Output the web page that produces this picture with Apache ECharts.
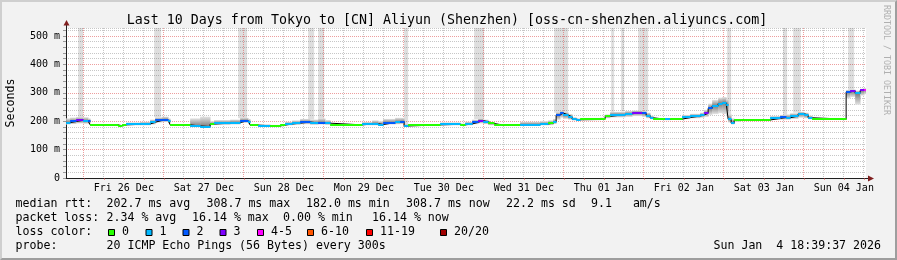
<!DOCTYPE html>
<html><head><meta charset="utf-8">
<script src="https://cdn.jsdelivr.net/npm/echarts@6/dist/echarts.min.js"></script>
<style>
html,body{margin:0;padding:0;background:#f2f2f2;}
#wrap{position:relative;width:897px;height:260px;overflow:hidden;}
#c{width:897px;height:260px;}
#frame{position:absolute;left:0;top:0;width:897px;height:260px;box-sizing:border-box;border-top:2px solid #cfcfcf;border-left:2px solid #cfcfcf;border-right:2px solid #9e9e9e;border-bottom:2px solid #9e9e9e;pointer-events:none;}
</style></head><body>
<div id="wrap"><div id="c"></div><div id="frame"></div></div>
<script>
// time in hours since Thu 25 Dec 2025 00:00
const START = 18.66;
const END = 258.66;
const Y_MAX = 528;

const dayLabels = ['Fri 26 Dec','Sat 27 Dec','Sun 28 Dec','Mon 29 Dec','Tue 30 Dec','Wed 31 Dec','Thu 01 Jan','Fri 02 Jan','Sat 03 Jan','Sun 04 Jan'];
const dayLabelHours = [36,60,84,108,132,156,180,204,228,252];
const yTickLabels = ['0','100 m','200 m','300 m','400 m','500 m'];

// median rtt segments (start hour, value ms, loss colour index, smoke range)
const segStart = [18.7,19.9,21.7,23.8,25.3,25.9,34.3,35.5,36.7,40.9,43.9,45.4,47.5,49.3,49.9,55.9,58.9,61.9,63.1,67.9,70.9,73.3,73.9,76.3,79.9,82.9,84.4,86.5,88.9,91.9,94.3,96.4,97.9,107.5,110.5,112.3,113.8,117.4,118.9,120.1,121.3,130.9,136.9,138.4,140.5,142.3,143.8,145.3,147.1,148.9,154.9,160.9,163.3,164.8,165.7,166.9,167.8,169.3,170.5,171.7,172.9,178.9,180.4,181.9,186.4,188.5,191.5,192.7,193.9,194.8,198.4,199.9,203.5,205.9,208.9,210.1,211.3,212.5,214.3,215.5,216.7,217.3,218.2,219.1,220.9,229.9,232.9,234.7,235.9,238.3,240.1,241.3,242.5,252.7,253.9,255.4,256.9,258.1];
const median   = [195,199,203,201,199,187,184,187,189,190,196,203,205,199,187,183,181,190,193,195,202,198,186,184,183,186,190,193,197,194,195,193,187,190,191,188,195,197,198,183,187,189,187,190,196,202,198,192,188,187,188,190,193,198,222,229,222,215,207,205,206,209,217,223,226,230,228,220,212,207,206,207,213,218,222,228,245,254,262,265,258,207,193,203,204,210,213,212,218,226,222,212,207,303,306,298,308,311];
const lossIdx  = [1,2,3,1,2,0,0,0,1,1,1,2,2,1,0,1,1,0,1,1,2,1,0,1,0,0,1,1,2,1,2,1,0,1,1,1,2,1,2,1,0,1,0,1,2,3,1,0,0,0,1,1,0,1,2,2,1,1,1,1,0,0,0,1,1,3,2,1,1,0,1,0,1,1,1,3,2,1,1,1,1,1,1,0,0,1,2,1,1,1,1,1,0,2,3,1,3,4];
const smokeLo  = [188,190,192,191,190,184,182,184,185,185,188,195,197,192,184,179,178,186,187,188,194,190,183,180,180,183,185,187,189,187,188,187,184,185,185,184,188,189,190,180,184,185,184,185,189,192,190,186,185,184,184,185,186,190,205,212,208,205,202,202,203,205,210,213,215,218,215,210,206,204,203,204,207,210,212,215,222,225,228,225,220,195,188,198,201,204,205,205,208,212,210,206,204,280,285,258,290,295];
const smokeHi  = [210,213,215,214,210,190,187,190,196,198,206,214,216,210,190,210,216,200,204,206,212,208,189,189,187,189,198,203,208,206,210,204,190,197,203,200,208,212,212,190,190,196,192,198,206,210,206,196,191,190,198,200,203,208,232,236,232,225,214,210,209,213,224,233,236,238,236,230,220,210,210,210,222,226,230,240,262,275,283,285,278,225,210,207,207,218,222,224,228,233,230,220,210,310,312,308,314,316];

// periods with packet loss spikes (light grey columns)
const lossBarStart = [22.3,45.1,70.3,91.3,94.3,120.1,141.1,165.1,182.2,185.2,190.3,217.0,233.8,236.8,253.3];
const lossBarEnd   = [23.8,47.2,73.0,93.1,96.1,121.3,144.1,169.3,183.1,186.1,193.3,218.2,235.0,239.1,255.1];
const lossBarFloor = [212,214,210,205,208,190,208,230,230,234,234,215,220,230,310];

const lossColors = ['#26ff00','#00b8ff','#0059ff','#7e00ff','#ff00ff','#ff5500','#ff0000','#a10000'];
const lossLabels = ['0','1','2','3','4-5','6-10','11-19','20/20'];

const MONO = '"DejaVu Sans Mono", monospace';
const MAJOR = 'rgba(222,79,79,0.55)';
const MINOR = 'rgba(143,143,143,0.5)';

const segEnd = i => (i + 1 < segStart.length ? segStart[i + 1] : END);
const segData = segStart.map((s, i) => [s, segEnd(i), median[i], lossIdx[i], smokeLo[i], smokeHi[i]]);
const lineData = segStart.map((s, i) => [s, median[i]]).concat([[END, median[median.length - 1]]]);
const barData = lossBarStart.map((s, i) => [s, lossBarEnd[i], lossBarFloor[i]]);

const gridHours = [];
for (let h = 24; h < END; h += 6) gridHours.push(h);

const chart = echarts.init(document.getElementById('c'), null, {renderer: 'canvas'});

function txt(text, x, y, opts) {
  return Object.assign({type: 'text', x: x, y: y, silent: true,
    style: Object.assign({text: text, font: '11.6px ' + MONO, fill: '#000', align: 'left', verticalAlign: 'middle'}, opts || {})});
}

const graphics = [
  {type: 'rect', shape: {x: 66, y: 28, width: 800, height: 150}, style: {fill: '#ffffff'}, z: -100, silent: true},
  {type: 'line', shape: {x1: 66.5, y1: 28, x2: 66.5, y2: 24}, style: {stroke: '#1f1f1f', lineWidth: 1}, silent: true},
  {type: 'polygon', shape: {points: [[63.5, 25.5], [69.5, 25.5], [66.5, 20]]}, style: {fill: '#801f1f'}, silent: true},
  {type: 'line', shape: {x1: 866, y1: 178.5, x2: 869, y2: 178.5}, style: {stroke: '#1f1f1f', lineWidth: 1}, silent: true},
  {type: 'polygon', shape: {points: [[868, 175.5], [868, 181.5], [874, 178.5]]}, style: {fill: '#801f1f'}, silent: true},
  txt('Last 10 Days from Tokyo to [CN] Aliyun (Shenzhen) [oss-cn-shenzhen.aliyuncs.com]', 447, 20.5, {font: '13.3px ' + MONO, align: 'center'}),
  {type: 'text', x: 10.5, y: 103, rotation: Math.PI / 2, silent: true,
    style: {text: 'Seconds', font: '11.6px ' + MONO, fill: '#000', align: 'center', verticalAlign: 'middle'}},
  {type: 'text', x: 886, y: 60, rotation: -Math.PI / 2, silent: true,
    style: {text: 'RRDTOOL / TOBI OETIKER', font: '8.3px ' + MONO, fill: '#b0b0b0', align: 'center', verticalAlign: 'middle'}},
  txt('median rtt:', 15.5, 204.3),
  txt('202.7 ms avg', 106.5, 204.3),
  txt('308.7 ms max', 206.5, 204.3),
  txt('182.0 ms min', 306, 204.3),
  txt('308.7 ms now', 406, 204.3),
  txt('22.2 ms sd', 506, 204.3),
  txt('9.1   am/s', 591, 204.3),
  txt('packet loss:', 15.5, 218),
  txt('2.34 % avg', 106.5, 218),
  txt('16.14 % max', 192, 218),
  txt('0.00 % min', 283, 218),
  txt('16.14 % now', 372, 218),
  txt('loss color:', 15.5, 231.8),
  txt('probe:', 15.5, 245.5),
  txt('20 ICMP Echo Pings (56 Bytes) every 300s', 106.5, 245.5),
  txt('Sun Jan  4 18:39:37 2026', 881, 245.5, {align: 'right'})
];
const boxX = [108, 145.5, 182.5, 219.5, 257, 307, 366, 440];
lossLabels.forEach((l, i) => {
  graphics.push({type: 'rect', shape: {x: boxX[i] + 0.5, y: 229.5, width: 6, height: 6},
    style: {fill: lossColors[i], stroke: '#000', lineWidth: 1}, silent: true});
  graphics.push(txt(l, boxX[i] + 14, 231.8));
});

chart.setOption({
  animation: false,
  backgroundColor: '#f2f2f2',
  grid: {left: 66, top: 28, width: 800, height: 150, containLabel: false},
  xAxis: {
    type: 'value', min: START, max: END,
    axisLine: {show: true, onZero: false, lineStyle: {color: '#1f1f1f', width: 1}},
    axisTick: {show: true, customValues: gridHours, length: 2, lineStyle: {color: MAJOR}},
    axisLabel: {customValues: dayLabelHours, margin: 5, fontFamily: MONO, fontSize: 10, color: '#000',
      formatter: v => { const i = dayLabelHours.indexOf(Math.round(v)); return i >= 0 ? dayLabels[i] : ''; }},
    splitLine: {show: false}
  },
  yAxis: {
    type: 'value', min: 0, max: Y_MAX, interval: 20,
    axisLine: {show: true, lineStyle: {color: '#1f1f1f', width: 1}},
    axisTick: {show: true, length: 3, lineStyle: {color: 'rgba(143,143,143,0.9)'}},
    axisLabel: {margin: 6, fontFamily: MONO, fontSize: 10, color: '#000', showMaxLabel: false,
      formatter: v => (v % 100 === 0 ? yTickLabels[v / 100] || '' : '')},
    splitLine: {show: true, lineStyle: {color: [MAJOR, MINOR, MINOR, MINOR, MINOR], type: [1, 1], width: 1}}
  },
  graphic: {elements: graphics},
  series: [
    {
      type: 'custom', name: 'lossbars', z: 1, clip: true, data: barData,
      renderItem: (p, api) => {
        const a = api.coord([api.value(0), Y_MAX]);
        const b = api.coord([api.value(1), api.value(2)]);
        return {type: 'rect', shape: {x: a[0], y: a[1], width: b[0] - a[0], height: b[1] - a[1]},
          style: {fill: 'rgba(0,0,0,0.13)'}};
      }
    },
    {
      type: 'custom', name: 'xgrid', z: 1, clip: true, silent: true, data: gridHours.map(h => [h]),
      renderItem: (p, api) => {
        const top = api.coord([api.value(0), Y_MAX]);
        const bot = api.coord([api.value(0), 0]);
        const x = Math.round(top[0]) - 0.5;
        return {type: 'line', shape: {x1: x, y1: top[1], x2: x, y2: bot[1]},
          style: {stroke: api.value(0) % 24 === 0 ? MAJOR : MINOR, lineWidth: 1, lineDash: [1, 1]}};
      }
    },
    {
      type: 'custom', name: 'smoke', z: 2, clip: true, data: segData,
      renderItem: (p, api) => {
        const a = api.coord([api.value(0), api.value(5)]);
        const b = api.coord([api.value(1), api.value(4)]);
        const ym = api.coord([api.value(0), api.value(2)])[1];
        const h = Math.max(1, b[1] - a[1]);
        const off = Math.min(0.98, Math.max(0.02, (ym - a[1]) / h));
        return {type: 'rect', shape: {x: a[0], y: a[1], width: b[0] - a[0] + 0.4, height: h},
          style: {fill: new echarts.graphic.LinearGradient(0, 0, 0, 1, [
            {offset: 0, color: '#e3e3e3'}, {offset: off, color: '#7d7d7d'}, {offset: 1, color: '#e3e3e3'}])}};
      }
    },
    {
      type: 'line', name: 'median', z: 3, step: 'end', symbol: 'none', data: lineData,
      lineStyle: {color: '#000', width: 1}
    },
    {
      type: 'custom', name: 'loss', z: 4, clip: true, data: segData,
      renderItem: (p, api) => {
        const a = api.coord([api.value(0), api.value(2)]);
        const b = api.coord([api.value(1), api.value(2)]);
        return {type: 'rect', shape: {x: a[0], y: Math.round(a[1]) - 1, width: b[0] - a[0] + 0.4, height: 2},
          style: {fill: lossColors[api.value(3)]}};
      }
    }
  ]
});
</script>
</body></html>
